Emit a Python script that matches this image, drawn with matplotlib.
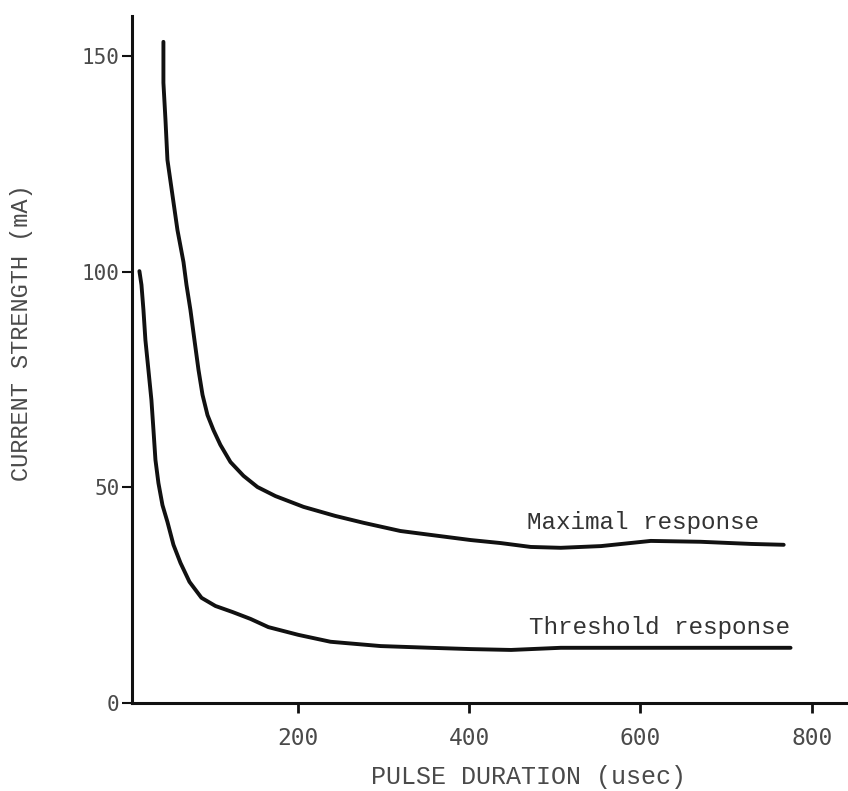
import matplotlib.pyplot as plt

# Strength-duration curves (pulse duration in usec, current in mA)
max_duration = [43.6, 43.6, 46, 48.3, 54.1, 60, 67, 70.5, 75.1, 79.8, 84.5,
                89.2, 95, 102, 110, 121.8, 137, 153.3, 174.3, 207, 244, 277,
                320, 355, 402, 437, 472, 507, 554, 612, 670, 729, 767]
max_current = [153.4, 143.9, 135.3, 126, 117.9, 109.7, 102.3, 97, 91.2,
               84.2, 77.3, 71.5, 66.8, 63.3, 59.9, 55.9, 52.7, 50.1, 48,
               45.5, 43.4, 41.8, 39.9, 39, 37.8, 37.1, 36.2, 36, 36.4, 37.6,
               37.4, 36.9, 36.7]

thr_duration = [15.6, 18, 20.3, 22.6, 26.1, 29.6, 32, 34.3, 37.8, 42.5, 48.3,
                55.3, 63.5, 74, 88, 104.3, 124.2, 145.2, 166, 201, 238.5, 297,
                355, 402, 449, 507, 577, 670, 775]
thr_current = [100.2, 97, 91.2, 84.2, 77.3, 70.3, 63.3, 56.4, 51, 45.9, 42,
               36.7, 32.5, 28.1, 24.4, 22.5, 21.1, 19.5, 17.6, 15.8, 14.2,
               13.2, 12.8, 12.5, 12.3, 12.8, 12.8, 12.8, 12.8]

x_ticks = [200, 400, 600, 800]
y_ticks = [0, 50, 100, 150]

ink = "#111111"
grey = "#4a4a4a"
mono = ["Liberation Mono", "DejaVu Sans Mono"]

fig = plt.figure(figsize=(8.48, 7.91), dpi=100)
ax = fig.add_axes([0.1557, 0.1113, 0.8443, 0.8685])

ax.plot(max_duration, max_current, color=ink, lw=2.8,
        solid_joinstyle="round", solid_capstyle="round")
ax.plot(thr_duration, thr_current, color=ink, lw=2.8,
        solid_joinstyle="round", solid_capstyle="round")

ax.text(468, 41.8, "Maximal response", fontsize=17.5, family=mono,
        color="#333333", va="center", ha="left")
ax.text(470, 17.6, "Threshold response", fontsize=17.5, family=mono,
        color="#333333", va="center", ha="left")

ax.set_xlim(7, 842)
ax.set_ylim(0, 159.4)

for side in ["top", "right"]:
    ax.spines[side].set_visible(False)
for side in ["left", "bottom"]:
    ax.spines[side].set_linewidth(2.2)
    ax.spines[side].set_color(ink)

ax.set_xticks(x_ticks)
ax.set_yticks(y_ticks)
ax.set_xticklabels([str(t) for t in x_ticks], family="DejaVu Sans Mono",
                   fontsize=16.5, color=grey)
ax.set_yticklabels([str(t) for t in y_ticks], family="DejaVu Sans Mono",
                   fontsize=15, color=grey)
ax.tick_params(axis="x", direction="out", length=7, width=2, pad=10,
               color=ink)
ax.tick_params(axis="y", direction="out", length=7, width=1.5, pad=2,
               color=ink)

ax.set_xlabel("PULSE DURATION (usec)", fontsize=18, family=mono,
              color=grey)
ax.xaxis.set_label_coords(0.554, -0.091)
ax.set_ylabel("CURRENT STRENGTH (mA)", fontsize=17, family=mono, color=grey)
ax.yaxis.set_label_coords(-0.139, 0.539)

fig.savefig("out.png", dpi=100)
